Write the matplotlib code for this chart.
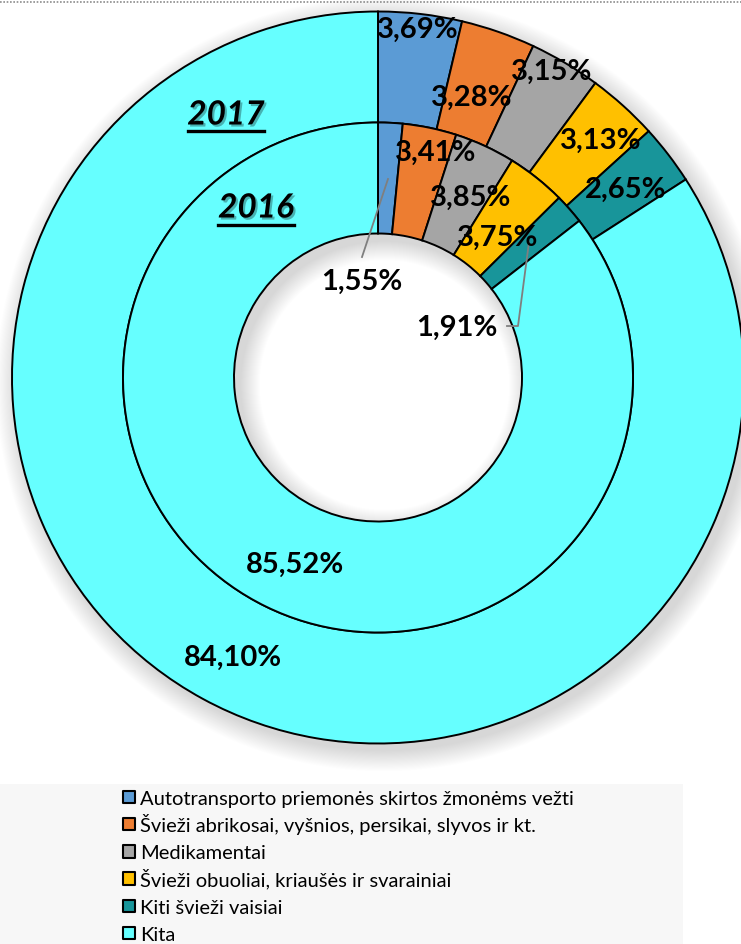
import matplotlib
matplotlib.use('Agg')
import matplotlib.pyplot as plt
import matplotlib.patheffects as pe
from matplotlib.patches import Rectangle
import numpy as np

# data
categories = ["Autotransporto priemonės skirtos žmonėms vežti",
              "Švieži abrikosai, vyšnios, persikai, slyvos ir kt.",
              "Medikamentai",
              "Švieži obuoliai, kriaušės ir svarainiai",
              "Kiti švieži vaisiai",
              "Kita"]
values_2017 = [3.69, 3.28, 3.15, 3.13, 2.65, 84.10]
values_2016 = [1.55, 3.41, 3.85, 3.75, 1.91, 85.52]
colors = ['#5B9BD5', '#ED7D31', '#A5A5A5', '#FFC000', '#18959A', '#66FFFF']

W, H = 741, 945
fig = plt.figure(figsize=(W / 100, H / 100), dpi=100)
ax = fig.add_axes([0, 0, 1, 1])

# geometry in pixels (y measured from the bottom)
cx, cy = 378, H - 378.5
r_out, ring = 366, 111
r_hole = r_out - 2 * ring

# soft drop shadow around the donut and inside the hole
yy, xx = np.mgrid[0:H, 0:W]
py = H - yy
d_out = np.hypot(xx - (cx + 5), py - (cy - 6))
d_hole = np.hypot(xx - (cx + 6), py - (cy - 7))
d_c = np.hypot(xx - cx, py - cy)
a = np.clip((r_out + 22 - d_out) / 22, 0, 1) * 0.16
a = np.where(d_c < r_out - 2, 0, a)
b = np.clip((d_hole - (r_hole - 20)) / 20, 0, 1) * 0.16
b = np.where(d_c < r_hole, b, 0)
shadow = np.zeros((H, W, 4))
shadow[..., 3] = a
ax.imshow(shadow, extent=[0, W, 0, H], origin='upper', zorder=0)
shadow2 = np.zeros((H, W, 4))
shadow2[..., 3] = b
ax.imshow(shadow2, extent=[0, W, 0, H], origin='upper', zorder=5)

wp = dict(width=ring, edgecolor='black', linewidth=1.4)
ax.pie(values_2017, colors=colors, radius=r_out, center=(cx, cy),
       startangle=90, counterclock=False, wedgeprops=wp)
ax.pie(values_2016, colors=colors, radius=r_out - ring, center=(cx, cy),
       startangle=90, counterclock=False, wedgeprops=wp)
for w in ax.patches:
    w.set_zorder(2)

ax.set_xlim(0, W)
ax.set_ylim(0, H)
ax.set_aspect('equal')
ax.axis('off')

lab_font = dict(family='Lato', weight='bold', fontsize=21, color='black',
                ha='center', va='center', zorder=10)

def fmt(v):
    return f"{v:.2f}".replace('.', ',') + '%'

# label positions (pixels from top-left) for 2017 and 2016
pos_2017 = [(418, 30), (472, 98), (552, 72), (601, 141), (626, 190), (233, 658)]
pos_2016 = [(436, 153), (471, 198), (498, 238), (362, 282), (457, 328), (295, 565)]
order_2016 = [1, 2, 3, 0, 4, 5]

for v, (x, y) in zip(values_2017, pos_2017):
    ax.text(x, H - y, fmt(v), **lab_font)
for i, (x, y) in zip(order_2016, pos_2016):
    ax.text(x, H - y, fmt(values_2016[i]), **lab_font)

# leader lines
ax.plot([388, 362], [H - 180, H - 258], color='#7F7F7F', lw=1.3, zorder=9)
ax.plot([529, 518, 507], [H - 243, H - 327, H - 327], color='#7F7F7F', lw=1.3, zorder=9)

# year titles
yr = dict(family='Lato', weight='bold', style='italic', fontsize=24,
          ha='center', va='center', zorder=10,
          path_effects=[pe.withSimplePatchShadow(offset=(1.5, -1.5), alpha=0.3)])
ax.text(226, H - 116, "2017", **yr)
ax.plot([188, 264], [H - 132, H - 132], color='black', lw=2.4, zorder=10)
ax.text(256, H - 209, "2016", **yr)
ax.plot([218, 294], [H - 226, H - 226], color='black', lw=2.4, zorder=10)

# dotted top border
ax.plot([0, W], [H - 3, H - 3], color='#8C8C8C', lw=1.2, ls=(0, (1, 1)), zorder=10)

# legend: background band, square markers and text rows
ax.add_patch(Rectangle((0, 0), 683, H - 785, facecolor='#F7F7F7', edgecolor='none', zorder=1))
row_y = H - (798 + 27.2 * np.arange(len(categories)))
ax.scatter(np.full(len(categories), 129), row_y, s=80, marker='s', c=colors,
           edgecolors='black', linewidths=1.5, zorder=10)
for name, y in zip(categories, row_y):
    ax.text(140, y - 7, name, family='Lato', fontsize=14.5, ha='left', va='baseline', zorder=10)

fig.savefig('out.png', dpi=100)
